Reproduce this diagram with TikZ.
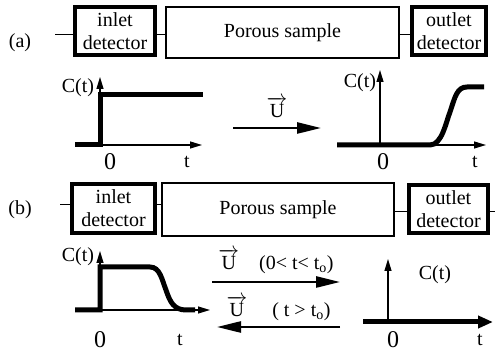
\documentclass[tikz,border=0pt]{standalone}
\usepackage{amsmath}
\usepackage{fontspec}
\setmainfont{Liberation Serif}
\usetikzlibrary{arrows.meta,positioning}
\newcommand{\vU}{\(\overrightarrow{\text{U}}\)}

\begin{document}
\begin{tikzpicture}[x=1pt,y=-1pt,>=stealth,
  font=\fontsize{20}{23}\selectfont,
  detector/.style={draw,line width=4pt,align=center,inner sep=0pt},
  sample/.style={draw,line width=1.2pt,inner sep=0pt},
  link/.style={line width=1pt},
  axis/.style={line width=1.2pt,-{Triangle[length=12pt,width=7pt]}},
  signal/.style={line width=5pt},
  zero/.style={font=\fontsize{24}{24}\selectfont},
  flow/.style={line width=2.5pt,-{Triangle[length=24pt,width=11pt]}}]
\useasboundingbox (0,0) rectangle (495,352);
\node (LA) at (20,43) {(a)};
\node[detector,minimum width=80pt,minimum height=48pt] (inA) at (115,31) {inlet\\detector};
\node[sample,minimum width=233pt,minimum height=51pt] (porA) at (282.5,32.5) {Porous sample};
\node[detector,minimum width=74pt,minimum height=48pt] (outA) at (449,31) {outlet\\detector};
\coordinate (EA) at (55,35);
\draw[link] (EA) -- (EA -| inA.west);
\draw[link] (inA.east |- EA) -- (porA.west |- EA);
\draw[link] (porA.east |- EA) -- (outA.west |- EA);
\draw[axis] (100,145) -- (202,145);
\draw[axis] (100,145) -- (100,77);
\draw[signal] (75,145) -- (100,145) -- (100,95) -- (203,95);
\node (CA) at (78,88) {C(t)};
\node[zero] (ZA) at (110,162) {0};
\node (TA) at (187,162) {t};
\coordinate (FA) at (233,128);
\coordinate (GA) at (321,128);
\draw[flow] (FA) -- node[above=6pt] {\vU} (GA);
\draw[axis] (380,145) -- (380,70);
\draw[axis] (337,145) -- (486,145);
\draw[signal] (337,145) -- (430,145) .. controls (442,145) and (446,122) .. (450,112)
  .. controls (455,97) and (457,87) .. (467,87) -- (484,87);
\node (CB) at (360,83) {C(t)};
\node[zero] (ZB) at (383,162) {0};
\node (TB) at (475,162) {t};
\node (LB) at (20,210) {(b)};
\node[detector,minimum width=83pt,minimum height=49pt] (inB) at (113.5,208.5) {inlet\\detector};
\node[sample,minimum width=232pt,minimum height=53pt] (porB) at (278,209.5) {Porous sample};
\node[detector,minimum width=79pt,minimum height=48pt] (outB) at (448.5,209) {outlet\\detector};
\coordinate (EB) at (60,205);
\coordinate (EC) at (495,212);
\draw[link] (EB) -- (EB -| inB.west);
\draw[link] (inB.east |- EB) -- (porB.west |- EB);
\draw[link] (porB.east |- EC) -- (outB.west |- EC);
\draw[link] (outB.east |- EC) -- (EC);
\draw[axis] (100,310) -- (210,310);
\draw[axis] (100,310) -- (100,251);
\draw[signal] (75,310) -- (100,310) -- (100,267) -- (150,267) .. controls (160,267) and (162,280) .. (166,290)
  .. controls (170,302) and (174,310) .. (186,310) -- (195,310);
\node (CC) at (78,257) {C(t)};
\node[zero] (ZC) at (100,340) {0};
\node (TC) at (180,340) {t};
\coordinate (FB) at (212,282);
\coordinate (GB) at (340,282);
\coordinate (FC) at (340,327);
\coordinate (GC) at (217,327);
\draw[flow] (FB) -- node[above=4pt] {\vU\quad(0< t< t\textsubscript{o})} (GB);
\draw[flow] (FC) -- node[above=2pt] {\vU\quad\ ( t > t\textsubscript{o})} (GC);
\draw[axis] (388,322) -- (388,259);
\draw[signal,-{Triangle[length=15pt,width=12pt]}] (363,322) -- (493,322);
\node (CD) at (435,275) {C(t)};
\node[zero] (ZD) at (393,340) {0};
\node (TD) at (480,340) {t};
\end{tikzpicture}
\end{document}
